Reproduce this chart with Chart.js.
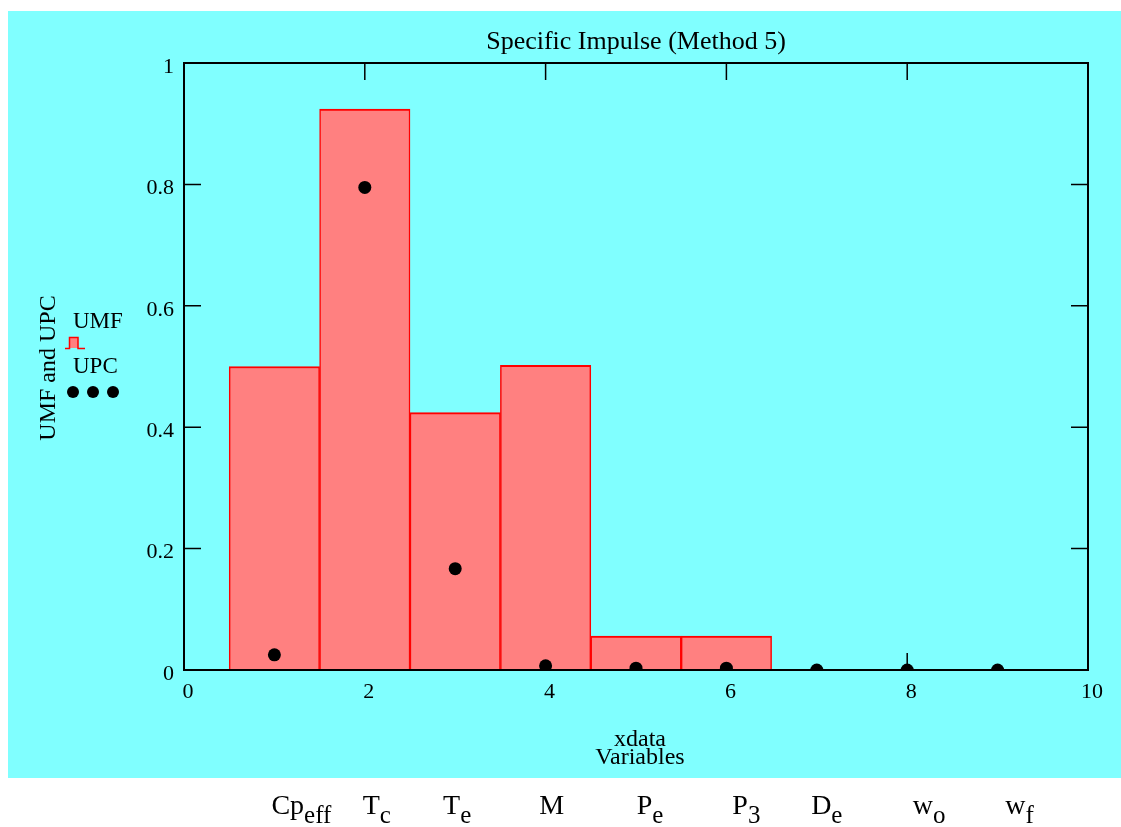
<!DOCTYPE html>
<html>
<head>
<meta charset="utf-8">
<title>Specific Impulse (Method 5)</title>
<script src="https://cdn.jsdelivr.net/npm/chart.js@4"></script>
<style>
  html, body { margin: 0; padding: 0; background: #fff; }
  canvas { display: block; }
</style>
</head>
<body>
<canvas id="chart" width="1121" height="827"></canvas>
<script>
// variable index on x, one bar (UMF) and one dot (UPC) per variable
const xdata = [1, 2, 3, 4, 5, 6, 7, 8, 9];
const umf = [0.5, 0.924, 0.424, 0.502, 0.056, 0.056, 0, 0, 0];
const upc = [0.025, 0.795, 0.167, 0.007, 0.003, 0.003, 0, 0, 0];
const varNames = ['Cp', 'T', 'T', 'M', 'P', 'P', 'D', 'w', 'w'];
const varSubs = ['eff', 'c', 'e', '', 'e', '3', 'e', 'o', 'f'];
// small horizontal nudges for the variable names under the plot
const nameNudge = [27, 12, 2, 6, 14, 20, 10, 22, 22];

const serif = '"Liberation Serif", "Times New Roman", serif';
const CYAN = '#80ffff';

const frame = {
  id: 'frame',
  beforeDraw(chart) {
    const ctx = chart.ctx;
    ctx.save();
    ctx.fillStyle = '#fff';
    ctx.fillRect(0, 0, chart.width, chart.height);
    ctx.fillStyle = CYAN;
    ctx.fillRect(8, 11, chart.width - 8, 767);
    ctx.restore();
  },
  beforeDatasetsDraw(chart) {
    // inward tick marks on all four sides
    const { ctx, chartArea: a, scales: { x, y } } = chart;
    const len = 17;
    ctx.save();
    ctx.strokeStyle = '#000';
    ctx.lineWidth = 1.5;
    ctx.beginPath();
    x.ticks.forEach(t => {
      const px = x.getPixelForValue(t.value);
      ctx.moveTo(px, a.bottom); ctx.lineTo(px, a.bottom - len);
      ctx.moveTo(px, a.top); ctx.lineTo(px, a.top + len);
    });
    y.ticks.forEach(t => {
      const py = y.getPixelForValue(t.value);
      ctx.moveTo(a.left, py); ctx.lineTo(a.left + len, py);
      ctx.moveTo(a.right, py); ctx.lineTo(a.right - len, py);
    });
    ctx.stroke();
    ctx.restore();
  },
  afterDatasetsDraw(chart) {
    const { ctx, chartArea: a, scales: { x } } = chart;
    ctx.save();
    ctx.strokeStyle = '#000';
    ctx.lineWidth = 2;
    ctx.strokeRect(a.left, a.top, a.right - a.left, a.bottom - a.top);

    ctx.fillStyle = '#000';
    ctx.textBaseline = 'middle';
    ctx.textAlign = 'center';
    ctx.font = '26px ' + serif;
    ctx.fillText('Specific Impulse (Method 5)', (a.left + a.right) / 2, 42);

    ctx.font = '24px ' + serif;
    ctx.fillText('xdata', (a.left + a.right) / 2 + 4, 740);
    ctx.fillText('Variables', (a.left + a.right) / 2 + 4, 758);

    // y axis title
    ctx.save();
    ctx.translate(49, 368);
    ctx.rotate(-Math.PI / 2);
    ctx.font = '24px ' + serif;
    ctx.fillText('UMF and UPC', 0, 0);
    ctx.restore();

    // legend
    ctx.textAlign = 'left';
    ctx.font = '23px ' + serif;
    ctx.fillText('UMF', 73, 322);
    ctx.fillText('UPC', 73, 367);
    ctx.fillStyle = '#ff8080';
    ctx.fillRect(69, 337, 9, 11);
    ctx.strokeStyle = '#ff0000';
    ctx.lineWidth = 1.5;
    ctx.beginPath();
    ctx.moveTo(65, 348.5); ctx.lineTo(69.5, 348.5); ctx.lineTo(69.5, 337.5);
    ctx.lineTo(78, 337.5); ctx.lineTo(78, 348.5); ctx.lineTo(85, 348.5);
    ctx.stroke();
    ctx.fillStyle = '#000';
    [73, 93, 113].forEach(cx => {
      ctx.beginPath();
      ctx.arc(cx, 392, 6, 0, Math.PI * 2);
      ctx.fill();
    });

    // variable names with subscripts
    ctx.textBaseline = 'alphabetic';
    xdata.forEach((v, i) => {
      ctx.font = '28px ' + serif;
      const w1 = ctx.measureText(varNames[i]).width;
      ctx.font = '25px ' + serif;
      const w2 = varSubs[i] ? ctx.measureText(varSubs[i]).width : 0;
      const left = x.getPixelForValue(v) + nameNudge[i] - (w1 + w2) / 2;
      ctx.font = '28px ' + serif;
      ctx.fillText(varNames[i], left, 814);
      if (varSubs[i]) {
        ctx.font = '25px ' + serif;
        ctx.fillText(varSubs[i], left + w1, 823);
      }
    });
    ctx.restore();
  }
};

new Chart(document.getElementById('chart'), {
  data: {
    datasets: [
      {
        type: 'scatter',
        label: 'UPC',
        data: xdata.map((v, i) => ({ x: v, y: upc[i] })),
        pointRadius: 6.5,
        pointHoverRadius: 6.5,
        pointBackgroundColor: '#000',
        pointBorderWidth: 0,
        showLine: false,
        clip: 0
      },
      {
        type: 'bar',
        label: 'UMF',
        data: xdata.map((v, i) => ({ x: v, y: umf[i] })),
        backgroundColor: '#ff8080',
        borderColor: '#ff0000',
        borderWidth: { top: 2, left: 1.5, right: 1.5, bottom: 0 },
        borderSkipped: 'start',
        barPercentage: 1,
        categoryPercentage: 1,
        clip: 0
      }
    ]
  },
  options: {
    responsive: false,
    animation: false,
    events: [],
    layout: { padding: { top: 63, right: 33, left: 0, bottom: 0 } },
    plugins: { legend: { display: false }, title: { display: false }, tooltip: { enabled: false } },
    scales: {
      x: {
        type: 'linear',
        min: 0, max: 10,
        offset: false,
        grid: { display: false, offset: false, drawTicks: false },
        border: { display: false },
        ticks: { stepSize: 2, color: '#000', font: { family: serif, size: 22 }, padding: 9, labelOffset: 4, maxRotation: 0 },
        afterFit(scale) { scale.height = 157; }
      },
      y: {
        type: 'linear',
        min: 0, max: 1,
        grid: { display: false, drawTicks: false },
        border: { display: false },
        ticks: {
          stepSize: 0.2, color: '#000', font: { family: serif, size: 22 }, padding: 10, labelOffset: 4,
          callback: v => String(Math.round(v * 10) / 10)
        },
        afterFit(scale) { scale.width = 184; }
      }
    }
  },
  plugins: [frame]
});
</script>
</body>
</html>
